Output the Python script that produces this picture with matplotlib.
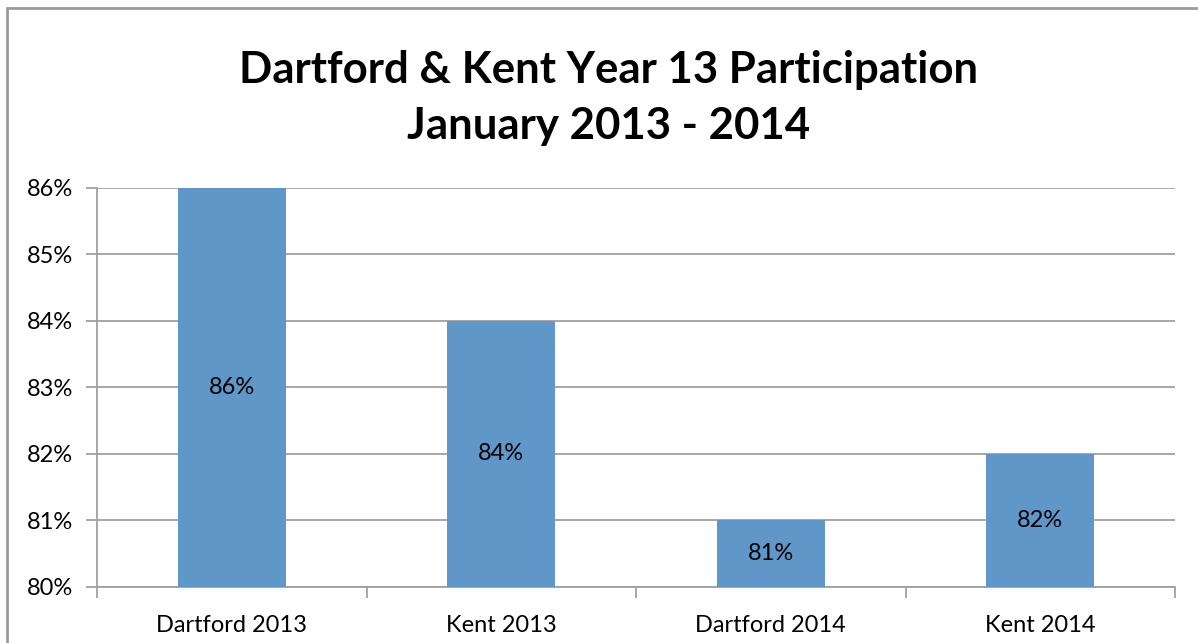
import matplotlib.pyplot as plt
from matplotlib.patches import Rectangle

categories = ['Dartford 2013', 'Kent 2013', 'Dartford 2014', 'Kent 2014']
values = [86, 84, 81, 82]
yticks = [80, 81, 82, 83, 84, 85, 86]

plt.rcParams['font.family'] = ['Lato', 'DejaVu Sans']

W, H = 1198, 643
fig = plt.figure(figsize=(W / 100, H / 100), dpi=100)
ax = fig.add_axes([97 / W, 1 - 587 / H, (1175 - 97) / W, (587 - 188) / H])

grey = '#a0a0a0'
x = list(range(len(categories)))
ax.bar(x, values, width=0.4, color='#6097c9', zorder=3)
for xi, v in zip(x, values):
    ax.text(xi, (80 + v) / 2, f'{v}%', ha='center', va='center', fontsize=17, zorder=4)

ax.set_ylim(80, 86)
ax.set_xlim(-0.5, len(categories) - 0.5)
ax.set_yticks(yticks)
ax.set_yticklabels([f'{t}%' for t in yticks], fontsize=17)
ax.yaxis.grid(True, color=grey, linewidth=1.3, zorder=0)

ax.set_xticks(x)
ax.set_xticklabels(categories, fontsize=17)
ax.tick_params(axis='x', length=0, pad=20)
ax.set_xticks([i - 0.5 for i in range(len(categories) + 1)], minor=True)
ax.tick_params(axis='x', which='minor', length=8, color=grey, width=1.3)
ax.tick_params(axis='y', length=8, color=grey, width=1.3, pad=9)

for s in ['top', 'right']:
    ax.spines[s].set_visible(False)
for s in ['left', 'bottom']:
    ax.spines[s].set_color(grey)
    ax.spines[s].set_linewidth(1.3)

fig.text(0.508, 1 - 98 / H, 'Dartford & Kent Year 13 Participation\nJanuary 2013 - 2014',
         ha='center', va='center', fontsize=31.5, fontweight='bold', linespacing=1.5)

fig.patches.append(Rectangle((7 / W, -0.01), 1.1, 1 - 8 / H + 0.01, transform=fig.transFigure,
                             fill=False, edgecolor='#9a9a9a', linewidth=2))

fig.savefig('out.png', dpi=100)
